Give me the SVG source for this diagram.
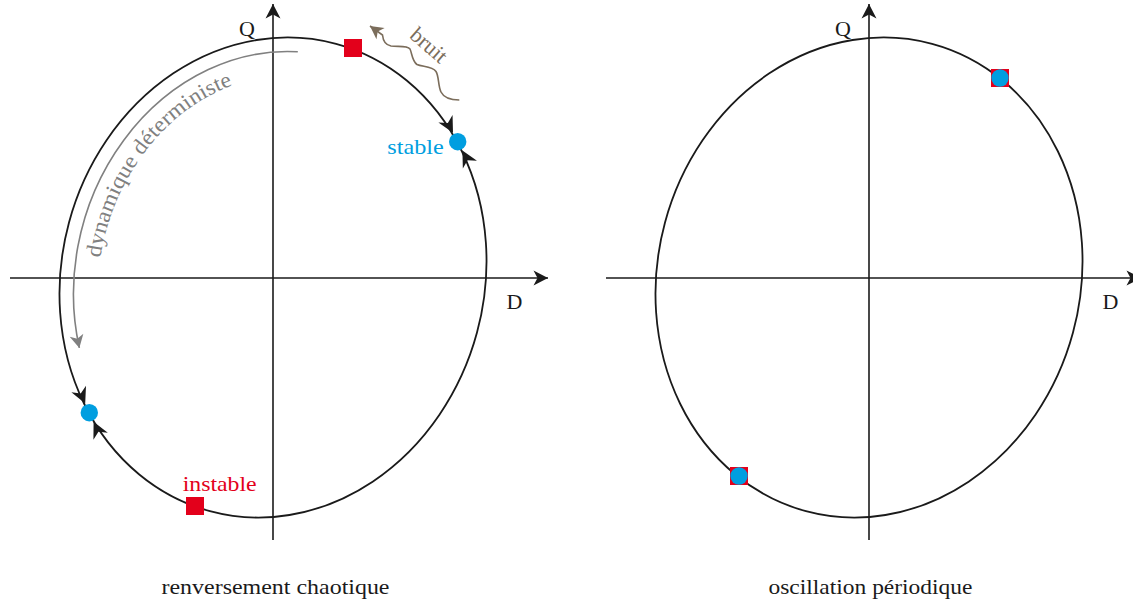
<svg xmlns="http://www.w3.org/2000/svg" xmlns:xlink="http://www.w3.org/1999/xlink" width="1133" height="603" viewBox="0 0 1133 603">
  <defs>
    <style>
      .ax{stroke:#1a1a1a;stroke-width:1.6;fill:none}
      .orb{stroke:#1a1a1a;stroke-width:1.8;fill:none}
      .txt{font-family:"Liberation Serif","Times New Roman",serif;font-size:22px}
      .blk{fill:#1a1a1a}
      .red{fill:#e3001b}
      .blue{fill:#009ee0}
      .gray{fill:#808080}
      .brn{fill:#7b6d5b}
    </style>
    <path id="ah" d="M0,0 L-16,-8 L-11,0 L-16,8 Z"/>
    <marker id="maxis" markerUnits="userSpaceOnUse" viewBox="-16 -9 17 18" refX="0" refY="0" markerWidth="17" markerHeight="18" orient="auto" overflow="visible">
      <path d="M0,0 L-14.5,-7.5 L-10.5,0 L-14.5,7.5 Z" fill="#1a1a1a"/>
    </marker>
    <marker id="mgray" markerUnits="userSpaceOnUse" viewBox="-14 -8 15 16" refX="0" refY="0" markerWidth="15" markerHeight="16" orient="auto" overflow="visible">
      <path d="M0,0 L-13,-7 L-9.5,0 L-13,7 Z" fill="#808080"/>
    </marker>
    <marker id="mbrn" markerUnits="userSpaceOnUse" viewBox="-14 -8 15 16" refX="0" refY="0" markerWidth="15" markerHeight="16" orient="auto" overflow="visible">
      <path d="M0,0 L-13,-7 L-9.5,0 L-13,7 Z" fill="#7b6d5b"/>
    </marker>
    <path id="dynpath" d="M97.6,284.8 A173.3,204 15.11 0 1 281.1,75.6"/>
  </defs>

  <!-- Left panel: axes -->
  <g id="axes-left">
    <line class="ax" x1="10" y1="278" x2="548" y2="278" marker-end="url(#maxis)"/>
    <line class="ax" x1="273" y1="540" x2="273" y2="4" marker-end="url(#maxis)"/>
    <text class="txt blk" x="239" y="36" font-family="Liberation Serif, serif">Q</text>
    <text class="txt blk" x="506.5" y="309.3" font-family="Liberation Serif, serif">D</text>
  </g>

  <g id="orbit-left">
    <ellipse class="orb" cx="0" cy="0" rx="211.3" ry="242" transform="translate(273,277.5) rotate(15.11)"/>
  </g>

  <!-- Right panel: axes -->
  <g id="axes-right">
    <line class="ax" x1="606" y1="278" x2="1141" y2="278" marker-end="url(#maxis)"/>
    <line class="ax" x1="869" y1="540" x2="869" y2="4" marker-end="url(#maxis)"/>
    <text class="txt blk" x="835" y="36" font-family="Liberation Serif, serif">Q</text>
    <text class="txt blk" x="1102.5" y="309.3" font-family="Liberation Serif, serif">D</text>
  </g>

  <g id="orbit-right">
    <ellipse class="orb" cx="0" cy="0" rx="211.3" ry="242" transform="translate(869,277.5) rotate(15.11)"/>
  </g>

  <!-- Connectors -->
  <g id="connectors">
    <path id="dyn-arrow" d="M297.8,51.8 A197.3,228 15.11 0 0 79.35,347.9" fill="none" stroke="#808080" stroke-width="1.6" marker-end="url(#mgray)"/>
    <path id="noise-arrow" d="M459.3,100 C452,100 444,98 441,92 C438,86 439,76 436,71.5 C432,66 422,67 417,64.5 C412,61 412,53 410,49 C407,45 398,47 391,46 C385,45 383,40 382.5,35 L370,26" fill="none" stroke="#7b6d5b" stroke-width="1.6" marker-end="url(#mbrn)"/>
    <use xlink:href="#ah" href="#ah" class="blk" transform="translate(453,132.8) rotate(62)"/>
    <use xlink:href="#ah" href="#ah" class="blk" transform="translate(462.4,150.5) rotate(-118)"/>
    <use xlink:href="#ah" href="#ah" class="blk" transform="translate(85.2,403.6) rotate(66)"/>
    <use xlink:href="#ah" href="#ah" class="blk" transform="translate(93.6,421.8) rotate(-116)"/>
  </g>

  <!-- Left panel nodes -->
  <g id="unstable-top">
    <rect class="red" x="344" y="39" width="18" height="18"/>
  </g>
  <g id="unstable-bottom">
    <rect class="red" x="186" y="497" width="18" height="18"/>
    <text class="txt red" x="182.7" y="490.5" textLength="74" lengthAdjust="spacingAndGlyphs" font-family="Liberation Serif, serif">instable</text>
  </g>
  <g id="stable-right">
    <circle class="blue" cx="457.7" cy="141.7" r="8.7"/>
    <text class="txt blue" x="387.3" y="154" textLength="56.5" lengthAdjust="spacingAndGlyphs" font-family="Liberation Serif, serif">stable</text>
  </g>
  <g id="stable-left">
    <circle class="blue" cx="89.3" cy="412.7" r="8.7"/>
  </g>

  <g id="label-dynamique">
    <text class="txt gray" font-family="Liberation Serif, serif" textLength="228" lengthAdjust="spacingAndGlyphs"><textPath xlink:href="#dynpath" href="#dynpath" startOffset="27">dynamique déterministe</textPath></text>
  </g>
  <g id="label-bruit">
    <text class="txt brn" x="0" y="0" font-family="Liberation Serif, serif" transform="translate(408.5,37) rotate(41)">bruit</text>
  </g>

  <!-- Right panel nodes -->
  <g id="periodic-top">
    <rect class="red" x="991" y="69" width="18" height="18"/>
    <circle class="blue" cx="1000" cy="78" r="8.7"/>
  </g>
  <g id="periodic-bottom">
    <rect class="red" x="730" y="467" width="18" height="18"/>
    <circle class="blue" cx="739" cy="476" r="8.7"/>
  </g>

  <!-- Captions -->
  <g id="captions">
    <text class="txt blk" x="275.5" y="594" text-anchor="middle" textLength="228" lengthAdjust="spacingAndGlyphs" font-family="Liberation Serif, serif">renversement chaotique</text>
    <text class="txt blk" x="870.5" y="594" text-anchor="middle" textLength="204" lengthAdjust="spacingAndGlyphs" font-family="Liberation Serif, serif">oscillation périodique</text>
  </g>
</svg>
